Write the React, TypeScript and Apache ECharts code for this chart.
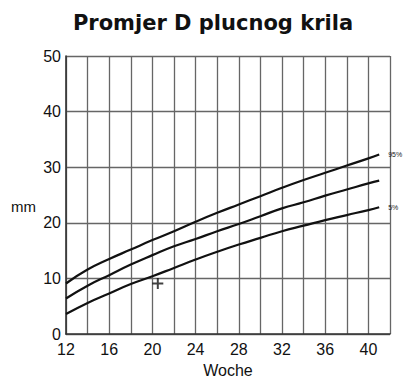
import React, { useEffect, useRef } from "react";
import * as echarts from "echarts";

const weeks = [12, 14, 16, 18, 20, 22, 24, 26, 28, 30, 32, 34, 36, 38, 40, 41];
const p95 = [9.1, 11.6, 13.5, 15.2, 16.9, 18.5, 20.2, 21.8, 23.3, 24.8, 26.3, 27.7, 29.0, 30.3, 31.6, 32.3];
const p50 = [6.4, 8.7, 10.6, 12.5, 14.2, 15.8, 17.1, 18.5, 19.8, 21.2, 22.6, 23.7, 24.9, 26.0, 27.1, 27.6];
const p5 = [3.6, 5.6, 7.3, 9.0, 10.4, 11.9, 13.4, 14.8, 16.1, 17.3, 18.5, 19.5, 20.5, 21.4, 22.3, 22.8];
const marker = [[20.5, 9.1]];
const curveLabels = ["95%", "", "5%"];

const FONT = "Liberation Sans, Arial, sans-serif";

export default function App() {
  const ref = useRef<HTMLDivElement>(null);
  useEffect(() => {
    if (!ref.current) return;
    const chart = echarts.init(ref.current, undefined, { renderer: "svg" });
    const mk = (vals: number[], label: string) => ({
      type: "line",
      data: weeks.map((w, i) => [w, vals[i]]),
      smooth: true,
      showSymbol: false,
      lineStyle: { color: "#111", width: 2.2 },
      endLabel: label
        ? { show: true, formatter: label, fontSize: 7, color: "#222", fontFamily: FONT, distance: 9 }
        : { show: false },
      silent: true,
    });
    chart.setOption({
      animation: false,
      backgroundColor: "#fff",
      title: {
        text: "Promjer D plucnog krila",
        left: 208,
        textAlign: "center",
        top: 7,
        textStyle: { fontFamily: "DejaVu Sans, sans-serif", fontSize: 21, fontWeight: "bold", color: "#111" },
      },
      grid: { left: 66, right: 19, top: 56, bottom: 44 },
      xAxis: {
        type: "value",
        min: 12,
        max: 42,
        interval: 2,
        name: "Woche",
        nameLocation: "middle",
        nameGap: 26,
        nameTextStyle: { fontFamily: FONT, fontSize: 16, color: "#111" },
        axisLine: { show: true, lineStyle: { color: "#333", width: 1.6 } },
        axisTick: { show: false },
        axisLabel: {
          margin: 7,
          fontFamily: FONT,
          fontSize: 16,
          color: "#111",
          formatter: (v: number) => (v % 4 === 0 ? String(v) : ""),
        },
        splitLine: { show: true, lineStyle: { color: "#666", width: 1.3 } },
      },
      yAxis: {
        type: "value",
        min: 0,
        max: 50,
        interval: 10,
        axisLine: { show: true, lineStyle: { color: "#333", width: 1.6 } },
        axisTick: { show: false },
        axisLabel: { margin: 5, fontFamily: FONT, fontSize: 16, color: "#111" },
        splitLine: { show: true, lineStyle: { color: "#666", width: 1.3 } },
      },
      graphic: [
        {
          type: "text",
          left: 11,
          top: 199,
          style: { text: "mm", fontFamily: FONT, fontSize: 15, fill: "#111" },
        },
      ],
      series: [
        mk(p95, curveLabels[0]),
        mk(p50, curveLabels[1]),
        mk(p5, curveLabels[2]),
        {
          type: "scatter",
          data: marker,
          symbol: "path://M4.1,0H5.9V4.1H10V5.9H5.9V10H4.1V5.9H0V4.1H4.1Z",
          symbolSize: 11,
          itemStyle: { color: "#111" },
          silent: true,
        },
      ],
    });
    return () => chart.dispose();
  }, []);
  return <div ref={ref} style={{ width: 409, height: 383, position: "absolute", left: 0, top: 0 }} />;
}
